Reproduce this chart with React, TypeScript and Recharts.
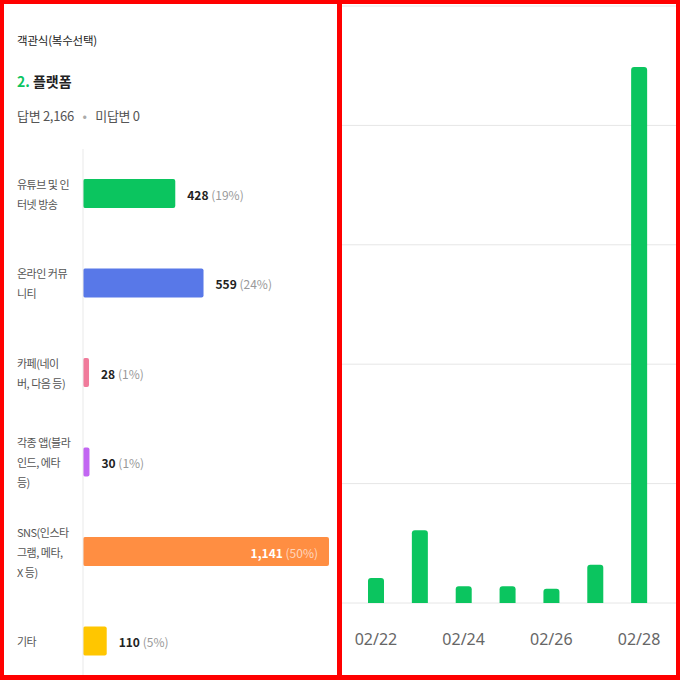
import React from 'react';
import { BarChart, Bar, XAxis, YAxis, CartesianGrid, Cell, LabelList } from 'recharts';

// survey answer counts per platform (multi choice)
const platformNames = [
  '유튜브 및 인\n터넷 방송',
  '온라인 커뮤\n니티',
  '카페(네이\n버, 다음 등)',
  '각종 앱(블라\n인드, 에타\n등)',
  'SNS(인스타\n그램, 메타,\nX 등)',
  '기타'
];
const platformCounts = [428, 559, 28, 30, 1141, 110];
const platformColors = ['#0bc55f', '#5878e8', '#f07b9b', '#c266f2', '#ff8e42', '#ffc600'];

// responses per day (right panel)
const dayLabels = ['02/22', '02/23', '02/24', '02/25', '02/26', '02/27', '02/28'];
const dayCounts = [21, 61, 14, 14, 12, 32, 449];
const dayTicks = [0, 100, 200, 300, 400];

const totalCount = platformCounts.reduce((a, b) => a + b, 0);
const maxCount = Math.max(...platformCounts);

const platformData = platformNames.map((name, i) => ({
  name,
  count: platformCounts[i],
  pct: Math.round((platformCounts[i] / totalCount) * 100)
}));

const dayData = dayLabels.map((day, i) => ({ day, count: dayCounts[i] }));

const FONT = '"Noto Sans CJK KR", "Noto Sans", sans-serif';

const CategoryTick = (props: any) => {
  const { y, payload } = props;
  const lines = String(payload.value).split('\n');
  return (
    <g>
      {lines.map((line, i) => (
        <text
          key={i}
          x={13}
          y={y + (i - (lines.length - 1) / 2) * 20}
          dominantBaseline="central"
          textAnchor="start"
          fontSize={11}
          letterSpacing={-0.5}
          fill="#555"
          fontFamily={FONT}
        >
          {line}
        </text>
      ))}
    </g>
  );
};

const ValueLabel = (props: any) => {
  const { x, y, width, height, index } = props;
  const row = platformData[index];
  const inside = row.count === maxCount;
  const label = row.count.toLocaleString('en-US');
  const cy = y + height / 2;
  if (inside) {
    return (
      <text x={x + width - 11} y={cy} dominantBaseline="central" textAnchor="end" fontSize={12} fontFamily={FONT}>
        <tspan fill="#fff" fontWeight={700}>{label}</tspan>
        <tspan fill="rgba(255,255,255,0.65)"> ({row.pct}%)</tspan>
      </text>
    );
  }
  return (
    <text x={x + width + 12} y={cy} dominantBaseline="central" textAnchor="start" fontSize={12} fontFamily={FONT}>
      <tspan fill="#222" fontWeight={700}>{label}</tspan>
      <tspan fill="#999"> ({row.pct}%)</tspan>
    </text>
  );
};

export default function App() {
  return (
    <div style={{ position: 'fixed', left: 0, top: 0, width: 680, height: 680, background: '#f00', fontFamily: FONT }}>
      {/* left panel: question result */}
      <div style={{ position: 'absolute', left: 4, top: 4, width: 333, height: 671, background: '#fff', overflow: 'hidden' }}>
        <div style={{ position: 'absolute', left: 13, top: 27, fontSize: 11.5, lineHeight: '18px', color: '#222', letterSpacing: -0.2 }}>
          객관식(복수선택)
        </div>
        <div style={{ position: 'absolute', left: 13, top: 67, fontSize: 14, lineHeight: '20px', fontWeight: 700, color: '#222' }}>
          <span style={{ color: '#0bc55f' }}>2.</span> 플랫폼
        </div>
        <div style={{ position: 'absolute', left: 13, top: 102, fontSize: 13, lineHeight: '20px', color: '#555', letterSpacing: -0.3 }}>
          답변 2,166 <span style={{ color: '#aaa', margin: '0 6px' }}>•</span> 미답변 0
        </div>
        <div style={{ position: 'absolute', left: 0, top: 145 }}>
          <BarChart
            width={333}
            height={537}
            data={platformData}
            layout="vertical"
            margin={{ top: 0, right: 8, bottom: 0, left: 0 }}
            barSize={29}
          >
            <XAxis type="number" domain={[0, maxCount]} hide />
            <YAxis
              type="category"
              dataKey="name"
              width={79}
              axisLine={{ stroke: '#e9e9e9' }}
              tickLine={false}
              tick={<CategoryTick />}
              interval={0}
            />
            <Bar dataKey="count" radius={2} isAnimationActive={false}>
              {platformData.map((_, i) => (
                <Cell key={i} fill={platformColors[i]} />
              ))}
              <LabelList dataKey="count" content={<ValueLabel />} />
            </Bar>
          </BarChart>
        </div>
      </div>

      {/* right panel: daily responses */}
      <div style={{ position: 'absolute', left: 342, top: 4, width: 334, height: 671, background: '#fff', overflow: 'hidden' }}>
        <BarChart
          width={334}
          height={671}
          data={dayData}
          margin={{ top: 2, right: 0, bottom: 0, left: 0 }}
          barSize={16}
        >
          <CartesianGrid vertical={false} stroke="#e6e6e6" />
          <XAxis
            dataKey="day"
            height={72}
            interval={1}
            padding={{ left: 12, right: 15 }}
            axisLine={false}
            tickLine={false}
            tickMargin={25}
            tick={{ fontSize: 16, fill: '#666', fontFamily: '"Noto Sans", sans-serif' }}
          />
          <YAxis hide domain={[0, 500]} ticks={dayTicks} />
          <Bar dataKey="count" fill="#0bc55f" radius={[3, 3, 0, 0]} isAnimationActive={false} />
        </BarChart>
      </div>
    </div>
  );
}
